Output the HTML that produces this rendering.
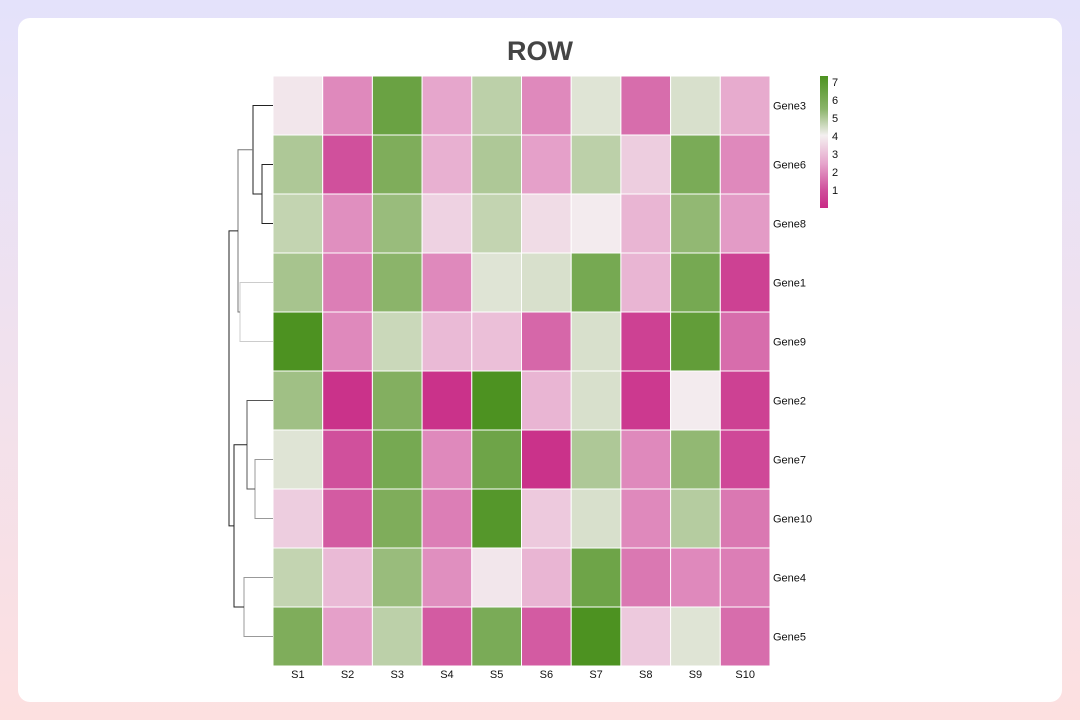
<!DOCTYPE html>
<html><head><meta charset="utf-8"><style>
body{margin:0;width:1080px;height:720px;background:linear-gradient(#e4e2fb,#fde0e0);font-family:"Liberation Sans",sans-serif;overflow:hidden}
.card{position:absolute;left:18px;top:18px;width:1044px;height:684px;background:#fff;border-radius:12px}
</style></head><body>
<div class="card"></div>
<svg id="c" width="1080" height="720" style="position:absolute;left:0;top:0">
<text x="540" y="60" text-anchor="middle" font-size="27" font-weight="bold" fill="#444">ROW</text>
<defs><linearGradient id="cb" x1="0" y1="1" x2="0" y2="0">
<stop offset="0" stop-color="#c92a86"/><stop offset="0.14" stop-color="#d0509c"/><stop offset="0.34" stop-color="#e6a6cc"/><stop offset="0.55" stop-color="#f4f0f0"/><stop offset="0.75" stop-color="#8bb46a"/><stop offset="1" stop-color="#4d9221"/></linearGradient></defs>
</svg>
<script>
const genes=["Gene3","Gene6","Gene8","Gene1","Gene9","Gene2","Gene7","Gene10","Gene4","Gene5"];
const samples=["S1","S2","S3","S4","S5","S6","S7","S8","S9","S10"];
const values=[
[3.8,2.0,6.3,2.5,4.8,2.0,4.3,1.5,4.4,2.6],
[5.0,1.0,5.8,2.7,5.0,2.4,4.8,3.3,5.9,2.0],
[4.7,2.1,5.3,3.4,4.7,3.6,3.9,2.8,5.4,2.3],
[5.1,1.8,5.5,2.0,4.3,4.4,6.0,2.8,6.0,0.8],
[7.0,2.0,4.6,2.9,3.0,1.4,4.4,0.8,6.5,1.5],
[5.2,0.6,5.7,0.6,7.0,2.8,4.4,0.7,3.9,0.8],
[4.3,1.0,6.0,2.0,6.2,0.6,5.0,2.0,5.4,0.9],
[3.3,1.2,5.8,1.8,6.8,3.2,4.4,2.0,4.9,1.7],
[4.7,2.9,5.3,2.1,3.8,2.8,6.2,1.7,2.0,1.8],
[5.8,2.4,4.8,1.2,5.9,1.2,7.0,3.2,4.3,1.5]];
const cbTicks=[1,2,3,4,5,6,7];
const stops=[[0.5,[201,42,134]],[1,[208,80,156]],[2.5,[230,166,204]],[4,[244,240,240]],[5.5,[139,180,106]],[7,[77,146,33]]];
function color(v){v=Math.max(0.5,Math.min(7,v));for(let i=1;i<stops.length;i++){if(v<=stops[i][0]){const[a,ca]=stops[i-1],[b,cb]=stops[i];const t=(v-a)/(b-a);return`rgb(${ca.map((c,k)=>Math.round(c+(cb[k]-c)*t)).join(",")})`;}}return"rgb(77,146,33)";}
const svgEl=document.getElementById('c');const NS="http://www.w3.org/2000/svg";
function mk(t,a){const e=document.createElementNS(NS,t);for(const k in a)e.setAttribute(k,a[k]);svgEl.appendChild(e);return e;}
const X0=273,Y0=76,CW=49.7,CH=59;
const xs=i=>X0+i*CW, ys=j=>Y0+j*CH;
values.forEach((row,j)=>row.forEach((v,i)=>{
 const r=mk('rect',{x:xs(i),y:ys(j),width:CW,height:CH,fill:color(v),stroke:'#fff','stroke-width':1});
 
 
}));
genes.forEach((g,j)=>{const t=mk('text',{x:773,y:ys(j)+CH/2+4,'font-size':11,fill:'#111'});t.textContent=g;
 
 });
samples.forEach((s,i)=>{const t=mk('text',{x:xs(i)+CW/2,y:678,'font-size':11,fill:'#111','text-anchor':'middle'});t.textContent=s;
 
 });
const cbar=mk('rect',{x:820,y:76,width:8,height:132,fill:'url(#cb)'});


const cby=v=>190-(v-1)*18;
cbTicks.forEach(v=>{const t=mk('text',{x:832,y:cby(v)+4,'font-size':11,fill:'#111'});t.textContent=v;
 
 });
const cy=j=>ys(j)+CH/2;
function link(x,y1,y2,x1,x2,col){const p=mk('path',{d:`M${x1},${y1}H${x}V${y2}H${x2}`,fill:'none',stroke:col||'#222','stroke-width':1});
 
 }
const L=273;
link(262,cy(1),cy(2),L,L);
const m68=(cy(1)+cy(2))/2;
link(253,cy(0),m68,L,262);
const m368=(cy(0)+m68)/2;
link(240,cy(3),cy(4),L,L,'#ccc');
const m19=(cy(3)+cy(4))/2;
link(238,m368,m19,253,240,'#777');
const mTop=(m368+m19)/2;
link(255,cy(6),cy(7),L,L,'#999');
const m710=(cy(6)+cy(7))/2;
link(247,cy(5),m710,L,255,'#555');
const m2=(cy(5)+m710)/2;
link(244,cy(8),cy(9),L,L,'#999');
const m45=(cy(8)+cy(9))/2;
link(234,m2,m45,247,244);
const mBot=(m2+m45)/2;
link(229,mTop,mBot,238,234);
</script>
</body></html>
